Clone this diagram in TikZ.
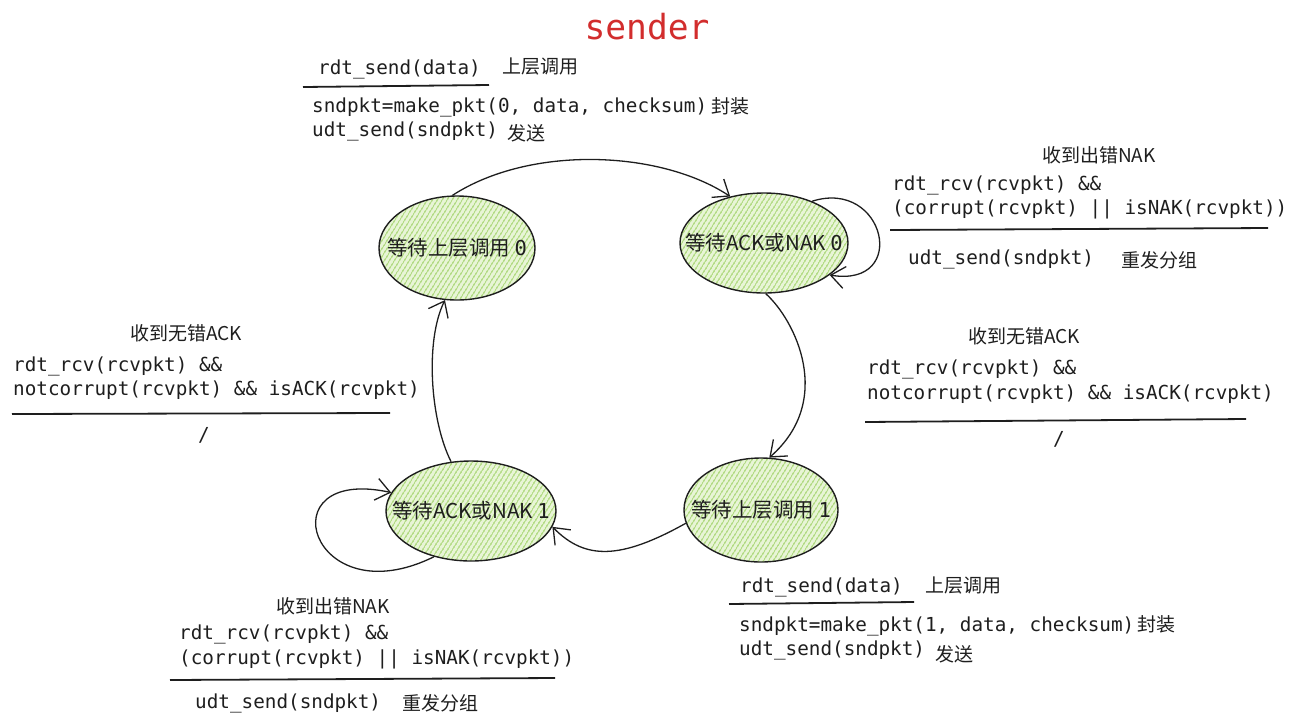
\documentclass[tikz,border=0pt]{standalone}
\usepackage{fontspec}
\newfontfamily\cjkf{Noto Sans CJK SC}
\newfontfamily\monof{DejaVu Sans Mono}
\usetikzlibrary{shapes.geometric,arrows.meta,patterns.meta}
\definecolor{hatch}{RGB}{155,208,95}
\definecolor{hatchbg}{RGB}{232,245,214}
\definecolor{titlered}{RGB}{210,45,45}
\definecolor{ink}{RGB}{30,30,30}
\begin{document}
\begin{tikzpicture}[x=1pt,y=-1pt,
 state/.style={ellipse, draw=ink, line width=1.4pt, inner sep=0pt,
   preaction={fill=hatchbg},
   pattern={Lines[angle=58,distance=4pt,line width=1.4pt]}, pattern color=hatch},
 stlabel/.style={label={[inner sep=0pt, font=\cjkf\fontsize{20.5}{24}\selectfont, text=ink]center:#1}},
 code/.style={anchor=west, inner sep=0pt, font=\monof\fontsize{19.3}{24}\selectfont,
   text height=14pt, text depth=4pt, text=ink},
 note/.style={anchor=west, inner sep=0pt, font=\cjkf\fontsize{19}{24}\selectfont, text=ink},
 trans/.style={draw=ink, line width=1.3pt,
   -{Straight Barb[length=14pt,width=22pt,line width=1.3pt]}},
 rulebar/.style={draw=ink, line width=1.8pt},
]
\useasboundingbox (0,0) rectangle (1291,716);

% title
\node[inner sep=0pt, font=\monof\fontsize{34.6}{40}\selectfont, text=titlered] (title) at (647,27) {sender};

% states
\node[state, minimum width=156pt, minimum height=104pt, stlabel={等待上层调用 {\monof 0}}] (s0) at (457,248) {};
\node[state, minimum width=168pt, minimum height=100pt, stlabel={等待ACK或NAK {\monof 0}}] (s1) at (764,243) {};
\node[state, minimum width=154pt, minimum height=104pt, stlabel={等待上层调用 {\monof 1}}] (s2) at (761,510) {};
\node[state, minimum width=170pt, minimum height=100pt, stlabel={等待ACK或NAK {\monof 1}}] (s3) at (471,511) {};

% transitions
\draw[trans] (s0.95) .. controls (530,145) and (660,150) .. (s1.126);
\draw[trans] (s1.41) .. controls (885,178) and (910,288) .. (s1.-26);
\draw[trans] (s1.-88) .. controls (795,320) and (835,400) .. (s2.81);
\draw[trans] (s2.190) .. controls (620,560) and (585,560) .. (s3.-11);
\draw[trans] (s3.231) .. controls (310,618) and (265,465) .. (s3.167);
\draw[trans] (s3.112) .. controls (430,420) and (425,340) .. (s0.-103);

% label A (top left)
\node[code] (a1) at (318,69) {rdt\_send(data)};
\node[note] (a2) at (502,67) {上层调用};
\coordinate (a3l) at (303,87); \coordinate (a3r) at (489,85);
\draw[rulebar] (a3l) -- (a3r);
\node[code] (a4) at (312,107) {sndpkt=make\_pkt(0, data, checksum)};
\node[note] (a5) at (711,106) {封装};
\node[code] (a6) at (312,131) {udt\_send(sndpkt)};
\node[note] (a7) at (507,133) {发送};

% label B (top right)
\node[note] (b1) at (1042,155) {收到出错NAK};
\node[code] (b2) at (892,185) {rdt\_rcv(rcvpkt) \&\&};
\node[code] (b3) at (892,209) {(corrupt(rcvpkt) || isNAK(rcvpkt))};
\coordinate (b4l) at (890,230); \coordinate (b4r) at (1268,228);
\draw[rulebar] (b4l) -- (b4r);
\node[code] (b5) at (908,259) {udt\_send(sndpkt)};
\node[note] (b6) at (1121,260) {重发分组};

% label C (left)
\node[note] (c1) at (130,333) {收到无错ACK};
\node[code] (c2) at (13,366) {rdt\_rcv(rcvpkt) \&\&};
\node[code] (c3) at (13,390) {notcorrupt(rcvpkt) \&\& isACK(rcvpkt)};
\coordinate (c4l) at (12,414); \coordinate (c4r) at (390,413);
\draw[rulebar] (c4l) -- (c4r);
\node[code] (c5) at (198,436) {/};

% label D (right middle)
\node[note] (d1) at (968,336) {收到无错ACK};
\node[code] (d2) at (867,369) {rdt\_rcv(rcvpkt) \&\&};
\node[code] (d3) at (867,394) {notcorrupt(rcvpkt) \&\& isACK(rcvpkt)};
\coordinate (d4l) at (865,422); \coordinate (d4r) at (1246,419);
\draw[rulebar] (d4l) -- (d4r);
\node[code] (d5) at (1053,440) {/};

% label E (bottom right)
\node[code] (e1) at (740,587) {rdt\_send(data)};
\node[note] (e2) at (925,585) {上层调用};
\coordinate (e3l) at (729,604); \coordinate (e3r) at (914,602);
\draw[rulebar] (e3l) -- (e3r);
\node[code] (e4) at (739,626) {sndpkt=make\_pkt(1, data, checksum)};
\node[note] (e5) at (1137,624) {封装};
\node[code] (e6) at (739,650) {udt\_send(sndpkt)};
\node[note] (e7) at (935,654) {发送};

% label F (bottom left)
\node[note] (f1) at (276,606) {收到出错NAK};
\node[code] (f2) at (179,634) {rdt\_rcv(rcvpkt) \&\&};
\node[code] (f3) at (179,659) {(corrupt(rcvpkt) || isNAK(rcvpkt))};
\coordinate (f4l) at (170,680); \coordinate (f4r) at (555,678);
\draw[rulebar] (f4l) -- (f4r);
\node[code] (f5) at (195,703) {udt\_send(sndpkt)};
\node[note] (f6) at (402,703) {重发分组};
\end{tikzpicture}
\end{document}
